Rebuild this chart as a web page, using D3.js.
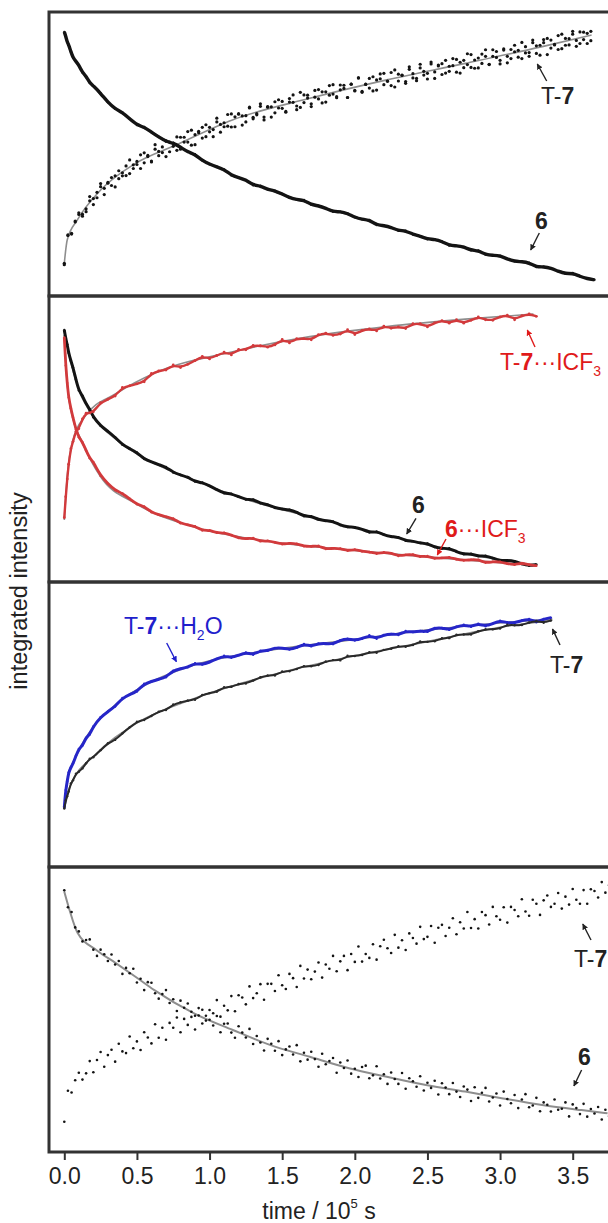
<!DOCTYPE html>
<html>
<head>
<meta charset="utf-8">
<script src="https://cdn.jsdelivr.net/npm/d3@7"></script>
<style>
body { margin: 0; background: #fff; }
text { font-family: Arial, "Liberation Sans", sans-serif; }
</style>
</head>
<body>
<script>
////// data (time in 10^5 s, intensity in arbitrary units 0-100 per panel)

const xTicks = [0, 0.5, 1.0, 1.5, 2.0, 2.5, 3.0, 3.5];

// sampling times, denser at the start
const tA = [0,0.01,0.02,0.03,0.045,0.06,0.08,0.1,0.125,0.15,0.175,
  0.2,0.25,0.3,0.35,0.4,0.45,0.5,0.55,0.6,0.65,0.7,0.75,0.8,0.85,0.9,0.95,
  1.0,1.05,1.1,1.15,1.2,1.25,1.3,1.35,1.4,1.45,1.5,1.55,1.6,1.65,1.7,1.75,
  1.8,1.85,1.9,1.95,2.0,2.05,2.1,2.15,2.2,2.25,2.3,2.35,2.4,2.45,2.5,2.55,
  2.6,2.65,2.7,2.75,2.8,2.85,2.9,2.95,3.0,3.05,3.1,3.15,3.2,3.25,3.3,3.35,
  3.4,3.45,3.5,3.55,3.6,3.65];

const tB = [0,0.025,0.05,0.075,0.1,0.125,0.15,0.175,0.2,0.225,
  0.25,0.275,0.3,0.325,0.35,0.375,0.4,0.425,0.45,0.475,
  0.5,0.525,0.55,0.575,0.6,0.625,0.65,0.675,0.7,0.725,
  0.75,0.775,0.8,0.825,0.85,0.875,0.9,0.925,0.95,0.975,
  1.0,1.025,1.05,1.075,1.1,1.125,1.15,1.175,1.2,1.225,
  1.25,1.275,1.3,1.325,1.35,1.375,1.4,1.425,1.45,1.475,
  1.5,1.525,1.55,1.575,1.6,1.625,1.65,1.675,1.7,1.725,
  1.75,1.775,1.8,1.825,1.85,1.875,1.9,1.925,1.95,1.975,
  2.0,2.025,2.05,2.075,2.1,2.125,2.15,2.175,2.2,2.225,
  2.25,2.275,2.3,2.325,2.35,2.375,2.4,2.425,2.45,2.475,
  2.5,2.525,2.55,2.575,2.6,2.625,2.65,2.675,2.7,2.725,
  2.75,2.775,2.8,2.825,2.85,2.875,2.9,2.925,2.95,2.975,
  3.0,3.025,3.05,3.075,3.1,3.125,3.15,3.175,3.2,3.225,
  3.25,3.275,3.3,3.325,3.35,3.375,3.4,3.425,3.45,3.475,
  3.5,3.525,3.55,3.575,3.6,3.625,3.65,3.675,3.7,3.725,3.75];

// panel 1
const p1_6 = [93.0,91.5,89.4,88.5,86.1,83.9,82.6,81.3,78.7,77.4,75.0,
  74.0,71.4,68.2,65.9,64.6,62.4,60.2,59.5,57.7,56.0,54.4,53.9,52.4,50.7,49.9,47.7,
  46.4,45.5,44.6,42.5,41.7,40.9,39.0,38.8,37.5,37.1,35.9,34.6,33.9,33.8,32.1,31.8,
  30.9,29.7,29.7,29.1,27.7,27.0,26.8,25.0,24.8,24.2,23.0,23.0,21.7,21.1,20.0,20.0,
  19.2,17.8,17.7,17.3,16.1,16.0,14.6,14.3,14.2,13.0,12.2,12.1,11.7,10.2,10.3,9.8,
  8.7,7.8,8.1,6.9,6.1,5.7];
const p1_T7 = [11.5,21.3,22.1,26.1,28.7,28.8,29.7,33.5,34.3,34.6,
  38.5,37.9,40.0,38.9,42.3,41.3,43.4,45.8,43.1,46.2,
  46.3,49.7,46.9,49.5,47.2,51.7,50.9,50.5,54.6,50.8,
  53.8,51.3,55.9,54.2,57.9,53.1,56.8,58.0,55.6,60.3,
  57.8,56.1,61.3,60.4,59.6,63.9,59.5,63.1,64.0,60.2,
  63.5,66.2,62.4,63.8,67.7,63.0,66.5,63.0,68.4,66.2,
  68.5,64.7,68.3,70.8,66.9,66.4,70.8,69.7,66.7,72.4,
  69.4,71.9,68.3,74.1,71.1,70.2,74.3,73.1,69.9,74.6,
  72.4,76.8,71.7,74.6,76.6,72.2,76.1,78.2,74.4,75.7,
  78.7,73.6,78.1,77.7,75.5,80.7,76.8,75.8,80.3,79.1,
  76.4,82.4,78.9,81.3,78.0,83.0,79.1,81.1,83.3,78.5,
  83.0,81.5,85.0,80.2,83.8,81.9,86.7,81.6,84.4,86.1,
  81.7,87.0,84.4,83.6,88.3,86.5,83.6,87.8,85.7,90.1,
  85.4,88.3,90.3,85.0,90.1,88.6,86.8,92.2,88.3,90.6,
  92.2,87.9,93.0,90.3,92.5,89.9];
// second reading of the same spectra
const p1_T7b = [11.0,21.5,21.8,26.4,29.3,28.1,30.7,35.0,32.2,36.5,
  39.6,35.7,39.7,41.7,38.4,44.1,42.3,42.4,47.9,44.9,
  47.4,44.9,50.4,49.1,47.5,53.3,49.4,52.5,49.1,54.2,
  52.7,56.0,51.7,55.9,54.2,58.4,53.3,57.5,59.4,56.1,
  59.4,58.6,62.6,57.7,61.0,59.8,64.1,59.6,64.2,63.4,
  61.3,66.5,62.9,64.2,66.8,62.0,66.7,66.6,64.5,69.1,
  66.1,65.0,69.5,68.2,65.6,71.7,68.1,70.7,67.7,70.0,
  72.7,68.0,71.9,70.7,74.4,69.8,72.6,74.2,69.9,74.6,
  72.2,76.8,72.1,74.5,73.2,77.2,72.5,76.5,78.4,75.6,
  74.1,79.6,75.7,77.8,74.9,79.8,78.3,76.6,81.6,77.8,
  78.4,81.7,76.6,81.0,81.8,78.5,80.9,83.6,78.8,82.3,
  80.4,85.3,80.5,83.1,80.3,85.2,84.4,81.5,86.7,84.0,
  83.0,86.6,82.1,86.8,86.0,84.1,89.3,85.6,84.4,89.2,
  88.1,84.8,89.2,90.7,87.3,88.4,91.7,87.1,90.7,88.4,
  93.2,90.0,88.9,92.9,88.9,93.2];

// panel 2
const p2_6 = [88.1,85.1,83.1,80.1,77.4,75.0,70.8,67.0,65.1,62.3,60.4,
  57.6,54.6,52.7,50.6,48.0,46.6,45.3,43.0,42.0,41.0,40.2,38.3,37.4,36.7,35.1,34.8,
  33.6,32.3,31.0,30.9,29.8,28.8,28.9,27.5,27.1,25.9,25.5,25.3,24.4,23.0,23.0,21.8,
  21.4,21.2,19.9,19.2,19.2,18.5,17.3,17.7,16.5,15.8,15.7,14.4,14.3,13.6,13.5,12.2,
  11.7,11.8,10.6,9.7,9.9,9.0,9.2,8.4,7.4,7.6,7.3,6.3,5.7,6.1];
const p2_6ICF = [85.5,75.7,69.6,64.5,60.7,57.4,53.4,50.6,48.9,46.0,43.3,
  42.0,37.1,34.4,32.1,31.0,29.1,27.2,26.4,24.4,23.5,22.8,22.2,20.5,20.0,19.5,18.0,
  18.1,17.2,17.2,16.4,15.4,15.1,15.4,14.2,14.4,13.9,13.2,13.6,13.4,12.5,12.4,12.7,
  11.5,11.8,11.7,10.9,11.4,10.7,10.5,9.9,10.4,10.1,9.1,9.5,9.6,8.8,9.1,8.2,
  8.4,8.7,7.9,7.5,7.8,7.8,6.7,7.1,7.1,6.4,6.0,6.7,6.0,5.7];
const p2_T7ICF = [22.5,29.8,36.0,41.2,46.6,49.1,52.7,53.6,57.0,59.0,59.1,
  59.5,62.7,63.9,65.0,68.0,68.6,69.3,70.0,72.9,73.8,74.1,75.9,75.0,76.1,77.4,78.9,
  78.0,79.2,80.4,79.4,81.3,81.2,82.7,82.6,82.1,82.9,84.8,83.6,85.1,85.1,84.7,86.5,
  87.0,86.2,86.7,88.2,86.5,88.0,88.5,87.8,89.5,88.7,89.2,88.6,90.3,90.3,89.2,90.6,
  91.4,90.5,91.7,90.5,91.5,92.7,91.7,91.5,92.7,93.3,91.7,93.1,93.7,92.9];

// panel 3
const p3_T7H2O = [20.9,27.0,30.0,33.2,34.9,36.2,39.0,41.4,42.6,45.4,46.5,
  49.3,52.6,54.5,56.3,59.3,60.5,61.6,64.3,65.1,65.9,66.6,68.9,69.6,70.1,71.5,71.0,
  71.9,73.0,74.1,73.4,74.3,75.3,74.5,75.9,75.9,76.9,76.8,76.3,76.9,78.3,77.4,78.4,
  78.4,78.2,79.6,80.1,79.5,80.1,81.3,80.1,81.4,81.8,81.4,82.8,82.4,82.8,82.5,83.9,
  83.9,83.2,84.3,85.0,84.3,85.4,84.5,85.4,86.4,85.7,85.6,86.5,87.0,85.9,87.0,87.5];
const p3_T7 = [20.5,23.4,24.8,26.5,29.3,30.4,32.7,33.4,34.6,36.4,38.0,
  38.5,41.0,43.4,44.6,46.9,49.0,51.0,51.6,53.0,54.5,55.1,57.0,57.8,58.4,58.7,60.4,
  61.0,61.5,63.1,63.2,64.2,64.4,65.4,66.6,67.2,67.2,68.6,68.7,69.5,70.5,70.4,70.9,
  72.1,72.6,72.5,74.1,74.0,74.4,75.4,75.2,76.2,76.6,77.5,77.3,77.9,79.1,79.0,79.2,
  80.3,80.3,81.5,81.6,81.6,82.7,83.4,83.4,83.7,85.0,84.8,84.9,85.8,86.3,85.7,86.5];

// panel 4
const p4_6 = [91.8,85.9,84.2,78.8,77.4,73.9,74.4,74.6,71.0,68.8,
  71.0,69.4,67.0,69.3,65.8,67.0,62.5,64.6,62.7,64.3,
  59.5,60.8,56.8,59.6,59.4,55.7,53.8,55.4,56.8,52.3,
  53.6,49.5,53.1,50.6,52.1,47.4,47.8,50.5,45.1,47.8,
  46.4,44.4,47.7,42.0,45.0,45.1,41.9,40.1,44.1,41.9,
  40.2,43.2,37.9,40.7,38.4,35.6,39.7,38.0,35.5,38.9,
  34.0,36.0,37.0,34.2,37.5,31.8,34.8,32.4,35.2,32.6,
  29.9,34.5,30.8,31.9,33.0,27.8,31.4,29.5,32.1,27.5,
  29.2,26.3,29.8,30.3,25.9,26.9,30.1,25.8,27.3,23.9,
  27.9,25.6,23.9,27.7,22.2,25.9,24.8,22.9,26.6,21.6,
  24.3,22.5,25.0,20.2,24.1,22.6,20.3,24.2,21.2,19.3,
  23.0,21.9,17.9,22.7,19.0,20.8,22.5,17.7,19.1,20.5,
  16.3,21.2,18.6,17.1,20.0,15.4,18.4,20.3,15.7,16.3,
  19.0,14.3,17.4,16.6,14.2,18.4,14.8,15.2,17.4,12.5,
  16.7,15.4,13.3,16.9,12.4,15.1,13.5,15.8,11.4,14.8,
  12.6];
const p4_T7 = [10.6,21.5,20.9,25.2,27.8,25.4,27.6,31.9,28.0,32.3,
  35.1,29.9,34.0,35.9,31.7,38.0,35.3,34.7,40.5,36.4,
  38.8,35.8,42.0,40.2,38.1,44.8,40.1,43.6,39.4,45.3,
  43.6,47.2,42.0,46.7,44.6,49.2,43.0,47.9,49.9,46.1,
  49.8,48.7,53.3,47.5,51.3,49.7,54.7,49.4,55.0,54.2,
  51.8,58.1,54.0,55.7,58.9,53.4,59.0,59.0,56.5,62.0,
  58.5,57.2,62.5,61.0,57.9,65.3,60.9,64.0,60.6,63.3,
  66.5,61.2,65.8,64.3,68.8,63.4,66.9,68.8,63.8,69.5,
  66.7,72.1,66.8,69.5,68.1,72.9,67.5,72.2,74.5,71.5,
  69.8,76.2,71.7,74.3,70.9,76.7,75.1,73.1,79.0,74.7,
  75.5,79.3,73.4,78.7,79.7,75.8,78.7,82.0,76.4,80.6,
  78.4,84.2,78.6,81.7,78.4,84.2,83.1,79.8,86.0,82.7,
  81.5,85.9,80.5,86.0,84.9,82.7,88.7,84.4,82.9,88.5,
  87.1,83.2,88.3,90.0,86.0,87.1,90.9,85.4,89.6,86.8,
  92.3,88.5,87.1,91.9,87.1,92.2,91.6,89.3,94.7,91.0,
  93.6];

// kinetic fits, [time, intensity]
const fitP1_6 = [[0,93],[0.05,85.5],[0.1,80.8],[0.2,73.8],[0.3,68.3],[0.4,64.3],[0.5,60.5],[0.6,57.6],[0.77,53],[1.0,46.6],[1.157,42.6],[1.4,37.6],[1.69,32.6],[2.0,27.9],[2.22,24.4],[2.5,20.4],[2.76,16.8],[3.0,13.7],[3.29,10.3],[3.5,7.6],[3.64,5.6]];
const fitP1_T7 = [[0,11.5],[0.02,19.7],[0.09,26.8],[0.25,37.3],[0.49,46.7],[0.77,53.2],[1.157,62.0],[1.69,69.6],[2.22,76.1],[2.76,81.9],[3.29,87.8],[3.63,91.9]];
const fitP2_6 = [[0,88.1],[0.036,78.8],[0.1,67.3],[0.2,57.8],[0.36,49.7],[0.62,41.5],[0.89,35.7],[1.16,30.4],[1.69,22.8],[2.22,16.4],[2.76,10.0],[3.25,5.6]];
const fitP2_6ICF = [[0,86.4],[0.02,69.5],[0.06,57.0],[0.116,49.7],[0.25,36.8],[0.49,27.5],[0.89,19.3],[1.42,14.1],[1.96,11.2],[2.49,8.8],[3.02,6.7],[3.24,5.9]];
const fitP2_T7ICF = [[0,21.7],[0.02,36.8],[0.06,49.7],[0.14,57.8],[0.36,66.0],[0.62,73.0],[1.16,80.5],[1.69,85.8],[2.22,89.3],[2.76,91.9],[3.23,93.7]];
const fitP3_T7H2O = [[0,20.9],[0.02,30.3],[0.09,39.8],[0.22,50.4],[0.36,57.3],[0.62,65.5],[0.89,70.8],[1.42,76.1],[1.96,79.6],[2.49,83.1],[3.02,85.7],[3.36,87.0]];
const fitP3_T7 = [[0,20.4],[0.036,27.9],[0.22,39.7],[0.49,50.2],[0.89,59.0],[1.42,67.3],[1.96,73.7],[2.49,79.0],[3.02,84.3],[3.36,86.6]];
const fitP4_6 = [[0,91.3],[0.036,84.9],[0.09,77.0],[0.22,70.9],[0.357,66.2],[0.49,61.5],[0.62,56.8],[0.89,48.7],[1.16,42.8],[1.42,37.5],[1.69,33.4],[1.96,29.4],[2.22,26.4],[2.49,23.5],[2.76,21.2],[3.02,18.8],[3.29,16.5],[3.56,14.7],[3.74,13.6]];

//////

const W = 608, H = 1223;
const RED = "#d23a3c", BLUE = "#2626c8", INK = "#141414";

const svg = d3.select("body").append("svg")
    .attr("width", W)
    .attr("height", H);

const defs = svg.append("defs");
[["ah-k", "#222"], ["ah-r", "#e01a1a"], ["ah-b", "#1f1fcc"]].forEach(([id, c]) => {
    defs.append("marker")
        .attr("id", id)
        .attr("viewBox", "0 0 10 10")
        .attr("refX", 9).attr("refY", 5)
        .attr("markerWidth", 6).attr("markerHeight", 6)
        .attr("markerUnits", "userSpaceOnUse")
        .attr("orient", "auto")
      .append("path")
        .attr("d", "M0,0 L10,5 L0,10 z")
        .attr("fill", c);
});

const x = d3.scaleLinear().domain([0, 3.5]).range([64.3, 572.7]);

const frameL = 49, frameR = 616;
const tops = [12, 296, 582, 867];
const bots = [296, 582, 867, 1152];
const ys = tops.map((t, i) => d3.scaleLinear().domain([0, 100]).range([bots[i], t]));

tops.forEach((t, i) => {
    defs.append("clipPath").attr("id", "clip" + i)
      .append("rect")
        .attr("x", frameL + 1.5).attr("y", t + 1.5)
        .attr("width", frameR - frameL).attr("height", bots[i] - t - 3);
});

const series = [
    {p: 0, t: tA, v: p1_6, fit: fitP1_6, c: INK, mode: "band", w: 3.4},
    {p: 0, t: tB, v: p1_T7, fit: fitP1_T7, c: INK, mode: "dots", r: 1.6},
    {p: 0, t: tB, v: p1_T7b, fit: null, c: INK, mode: "dots", r: 1.6},
    {p: 1, t: tA, v: p2_6, fit: fitP2_6, c: INK, mode: "band", w: 3},
    {p: 1, t: tA, v: p2_6ICF, fit: fitP2_6ICF, c: RED, mode: "band", w: 2.8},
    {p: 1, t: tA, v: p2_T7ICF, fit: fitP2_T7ICF, c: RED, mode: "band", w: 2.4, r: 1.4},
    {p: 2, t: tA, v: p3_T7H2O, fit: fitP3_T7H2O, c: BLUE, mode: "band", w: 3},
    {p: 2, t: tA, v: p3_T7, fit: fitP3_T7, c: "#2a2a2a", mode: "band", w: 2},
    {p: 3, t: tB, v: p4_6, fit: fitP4_6, c: INK, mode: "dots", r: 1.3},
    {p: 3, t: tB, v: p4_T7, fit: null, c: INK, mode: "dots", r: 1.3},
];

const panels = tops.map((t, i) => svg.append("g").attr("clip-path", `url(#clip${i})`));

// fits first, data on top
series.forEach(s => {
    if (!s.fit) return;
    const y = ys[s.p];
    panels[s.p].append("path")
        .attr("d", d3.line().x(d => x(d[0])).y(d => y(d[1])).curve(d3.curveMonotoneX)(s.fit))
        .attr("fill", "none")
        .attr("stroke", "#8e8e8e")
        .attr("stroke-width", s.p === 3 ? 2 : 1.6);
});

series.forEach(s => {
    const y = ys[s.p];
    const pts = s.v.map((v, i) => [s.t[i], v]);
    const g = panels[s.p].append("g");
    if (s.mode === "band") {
        g.append("path")
            .attr("d", d3.line().x(d => x(d[0])).y(d => y(d[1])).curve(d3.curveBasis)(pts))
            .attr("fill", "none")
            .attr("stroke", s.c)
            .attr("stroke-width", s.w)
            .attr("stroke-linejoin", "round");
    }
    g.selectAll("circle")
        .data(pts)
        .join("circle")
        .attr("cx", d => x(d[0]))
        .attr("cy", d => y(d[1]))
        .attr("r", s.r || 1.2)
        .attr("fill", s.c);
});

// frames
tops.forEach((t, i) => {
    svg.append("rect")
        .attr("x", frameL).attr("y", t)
        .attr("width", frameR - frameL).attr("height", bots[i] - t)
        .attr("fill", "none")
        .attr("stroke", "#333")
        .attr("stroke-width", 3);
});

// x axis
const gx = svg.append("g")
    .attr("transform", `translate(0,${bots[3]})`)
    .call(d3.axisBottom(x).tickValues(xTicks).tickFormat(d3.format(".1f")).tickSize(8).tickPadding(8));
gx.attr("font-family", null).attr("font-size", null);
gx.select(".domain").remove();
gx.selectAll(".tick line").attr("stroke", "#333").attr("stroke-width", 2);
gx.selectAll(".tick text").attr("font-size", 23).attr("fill", "#222");

const xt = svg.append("text")
    .attr("x", 319).attr("y", 1219)
    .attr("text-anchor", "middle")
    .attr("font-size", 23)
    .attr("fill", "#222");
xt.append("tspan").text("time / 10");
xt.append("tspan").attr("font-size", 13).attr("dy", -11).text("5");
xt.append("tspan").attr("dy", 11).text(" s");

svg.append("text")
    .attr("transform", "translate(27,591) rotate(-90)")
    .attr("text-anchor", "middle")
    .attr("font-size", 23.5)
    .attr("fill", "#222")
    .text("integrated intensity");

// annotations
function label(xp, yp, color, parts) {
    const t = svg.append("text").attr("x", xp).attr("y", yp)
        .attr("font-size", 23).attr("fill", color);
    parts.forEach(p => {
        const s = t.append("tspan").text(p[0]);
        if (p[1] === "b") s.attr("font-weight", "bold");
        if (p[1] === "sub") s.attr("font-size", 14).attr("dy", 6);
        if (p[1] === "up") s.attr("dy", -6);
    });
}
function arrow(x1, y1, x2, y2, color, mk) {
    svg.append("line")
        .attr("x1", x1).attr("y1", y1).attr("x2", x2).attr("y2", y2)
        .attr("stroke", color).attr("stroke-width", 1.4)
        .attr("marker-end", `url(#${mk})`);
}

const K = "#222", R = "#e01a1a", B = "#1f1fcc";

// panel 1
label(541, 104, K, [["T-"], ["7", "b"]]);
arrow(546.7, 81, 537.3, 64, K, "ah-k");
label(535, 229, K, [["6", "b"]]);
arrow(539.3, 233, 530.7, 250, K, "ah-k");

// panel 2
label(500, 370, R, [["T-"], ["7", "b"], ["\u00b7\u00b7\u00b7ICF"], ["3", "sub"]]);
arrow(535, 347, 527.3, 330, R, "ah-r");
label(412, 513, K, [["6", "b"]]);
arrow(416, 518.3, 406.7, 534, K, "ah-k");
label(445, 536.7, R, [["6", "b"], ["\u00b7\u00b7\u00b7ICF"], ["3", "sub"]]);
arrow(446, 539, 437.3, 555, R, "ah-r");

// panel 3
label(124, 634, B, [["T-"], ["7", "b"], ["\u00b7\u00b7\u00b7H"], ["2", "sub"], ["O", "up"]]);
arrow(166.7, 643, 176.4, 661.7, B, "ah-b");
label(550, 673, K, [["T-"], ["7", "b"]]);
arrow(560, 645, 552.5, 629, K, "ah-k");

// panel 4
label(574, 967, K, [["T-"], ["7", "b"]]);
arrow(591, 940, 582.8, 924, K, "ah-k");
label(578, 1065, K, [["6", "b"]]);
arrow(581.6, 1070, 573.9, 1086, K, "ah-k");
</script>
</body>
</html>
